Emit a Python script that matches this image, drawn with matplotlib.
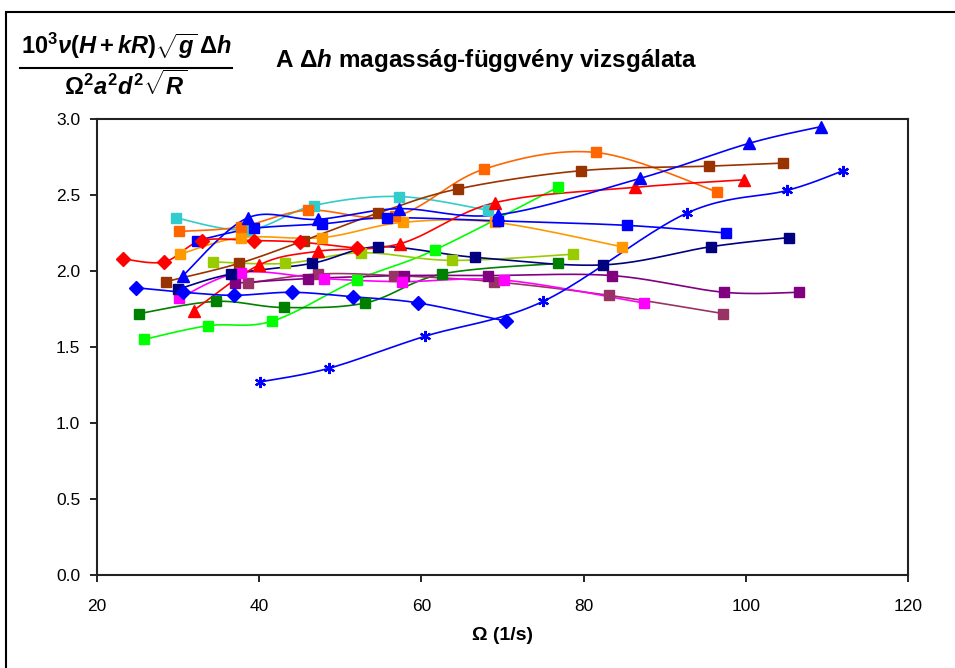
import numpy as np
import matplotlib.pyplot as plt
from matplotlib.patches import Rectangle
from matplotlib.lines import Line2D

plt.rcParams['font.family'] = ['Liberation Sans Narrow', 'Liberation Sans', 'DejaVu Sans']
plt.rcParams['mathtext.fontset'] = 'custom'
plt.rcParams['mathtext.rm'] = 'Liberation Sans:bold'
plt.rcParams['mathtext.it'] = 'Liberation Sans:italic:bold'
plt.rcParams['mathtext.bf'] = 'Liberation Sans:bold'

# series values (Omega in 1/s, scaled height)
red_dia_x = [23.2, 28.3, 32.9, 39.3, 45.0, 52.0]
red_dia_y = [2.08, 2.06, 2.20, 2.20, 2.19, 2.15]
blue_dia_x = [24.8, 30.6, 36.9, 44.1, 51.6, 59.6, 70.4]
blue_dia_y = [1.89, 1.86, 1.84, 1.86, 1.83, 1.79, 1.67]
dgreen_x = [25.2, 34.7, 43.0, 53.1, 62.5, 76.8]
dgreen_y = [1.72, 1.80, 1.76, 1.79, 1.98, 2.05]
lime_x = [25.8, 33.7, 41.6, 52.0, 61.7, 76.8]
lime_y = [1.55, 1.64, 1.67, 1.94, 2.14, 2.55]
ygreen_x = [34.3, 43.2, 52.6, 63.8, 78.7]
ygreen_y = [2.06, 2.05, 2.12, 2.07, 2.11]
navy_x = [30.0, 36.5, 46.5, 54.7, 66.6, 82.4, 95.7, 105.3]
navy_y = [1.88, 1.98, 2.05, 2.16, 2.09, 2.04, 2.16, 2.22]
blue_sq_x = [32.3, 39.3, 47.8, 55.7, 69.4, 85.4, 97.6]
blue_sq_y = [2.20, 2.28, 2.31, 2.35, 2.33, 2.30, 2.25]
blue_tri_x = [30.6, 38.6, 47.2, 57.2, 69.5, 87.0, 100.4, 109.3]
blue_tri_y = [1.97, 2.35, 2.34, 2.41, 2.37, 2.61, 2.84, 2.95]
red_tri_x = [31.9, 40.0, 47.2, 57.4, 69.1, 86.3, 99.8]
red_tri_y = [1.74, 2.04, 2.13, 2.18, 2.45, 2.55, 2.60]
star_x = [40.1, 48.6, 60.4, 75.0, 92.7, 105.1, 112.0]
star_y = [1.27, 1.36, 1.57, 1.80, 2.38, 2.53, 2.66]
cyan_x = [29.7, 38.6, 46.7, 57.2, 68.2]
cyan_y = [2.35, 2.27, 2.43, 2.49, 2.40]
orange_x = [30.1, 37.7, 46.0, 56.8, 67.7, 81.5, 96.5]
orange_y = [2.26, 2.29, 2.40, 2.36, 2.67, 2.78, 2.52]
lorange_x = [30.2, 37.7, 47.8, 57.7, 69.1, 84.7]
lorange_y = [2.11, 2.22, 2.22, 2.32, 2.32, 2.16]
brown_x = [28.5, 37.5, 45.5, 54.6, 64.5, 79.7, 95.5, 104.6]
brown_y = [1.93, 2.05, 2.20, 2.38, 2.54, 2.66, 2.69, 2.71]
purple_x = [37.0, 46.0, 57.8, 68.2, 83.5, 97.3, 106.6]
purple_y = [1.92, 1.95, 1.97, 1.97, 1.97, 1.86, 1.86]
plum_x = [38.6, 47.3, 56.6, 68.9, 83.1, 97.2]
plum_y = [1.92, 1.98, 1.97, 1.93, 1.84, 1.72]
magenta_x = [30.1, 37.7, 48.0, 57.6, 70.2, 87.4]
magenta_y = [1.82, 1.99, 1.95, 1.93, 1.94, 1.79]

x_ticks = [20, 40, 60, 80, 100, 120]
y_ticks = [0.0, 0.5, 1.0, 1.5, 2.0, 2.5, 3.0]

series = [
    (lime_x, lime_y, '#00FF00', 's'),
    (dgreen_x, dgreen_y, '#008000', 's'),
    (ygreen_x, ygreen_y, '#99CC00', 's'),
    (cyan_x, cyan_y, '#33CCCC', 's'),
    (lorange_x, lorange_y, '#FF9900', 's'),
    (orange_x, orange_y, '#FF6600', 's'),
    (brown_x, brown_y, '#993300', 's'),
    (plum_x, plum_y, '#993366', 's'),
    (purple_x, purple_y, '#800080', 's'),
    (magenta_x, magenta_y, '#FF00FF', 's'),
    (navy_x, navy_y, '#000080', 's'),
    (blue_sq_x, blue_sq_y, '#0000FF', 's'),
    (star_x, star_y, '#0000FF', (6, 2, 0)),
    (red_tri_x, red_tri_y, '#FF0000', '^'),
    (blue_tri_x, blue_tri_y, '#0000FF', '^'),
    (blue_dia_x, blue_dia_y, '#0000FF', 'D'),
    (red_dia_x, red_dia_y, '#FF0000', 'D'),
]
marker_size = {'s': 7.5, '^': 8.5, 'D': 7}


def smooth(x, y, n=24):
    # Excel style smoothed line (cubic bezier through the points)
    p = np.column_stack([x, y]).astype(float)
    p = np.vstack([p[0], p, p[-1]])
    pts = []
    for i in range(1, len(p) - 2):
        p0, p1, p2, p3 = p[i - 1], p[i], p[i + 1], p[i + 2]
        c1 = p1 + (p2 - p0) / 6
        c2 = p2 - (p3 - p1) / 6
        t = np.linspace(0, 1, n)[:, None]
        b = (1 - t)**3 * p1 + 3 * (1 - t)**2 * t * c1 + 3 * (1 - t) * t**2 * c2 + t**3 * p2
        pts.append(b)
    pts = np.vstack(pts)
    return pts[:, 0], pts[:, 1]


fig = plt.figure(figsize=(9.55, 6.68), dpi=100)
ax = fig.add_axes([97 / 955, 1 - 575 / 668, 811 / 955, 456 / 668])

for x, y, c, m in series:
    sx, sy = smooth(x, y)
    ax.plot(sx, sy, color=c, lw=1.2, zorder=2)
    if m == (6, 2, 0):
        ax.plot(x, y, ls='none', marker=m, color=c, ms=8, mew=1.6, zorder=3)
    else:
        ax.plot(x, y, ls='none', marker=m, color=c, mec=c, ms=marker_size[m], zorder=3)

ax.set_xlim(20, 120)
ax.set_ylim(0, 3.0)
ax.set_xticks(x_ticks)
ax.set_yticks(y_ticks)
ax.set_yticklabels([f'{v:.1f}' for v in y_ticks])
ax.tick_params(direction='out', length=5, width=1.2, labelsize=12.5)
ax.tick_params(axis='x', pad=12)
ax.tick_params(axis='y', pad=7)
for s in ax.spines.values():
    s.set_linewidth(1.5)
    s.set_color('#222222')
ax.set_xlabel('Ω (1/s)', fontsize=14, fontweight='bold', labelpad=10)

# outer chart frame
fig.add_artist(Rectangle((6 / 955, -0.05), 1.1, 1.032, transform=fig.transFigure,
                         fill=False, lw=1.5, ec='black'))

# formula on the y axis
fig.text(126 / 955, 1 - 46 / 668, r'$10^3\nu(H+kR)\sqrt{g}\,\Delta h$',
         ha='center', va='center', fontsize=17)
fig.add_artist(Line2D([20 / 955, 232 / 955], [1 - 68 / 668, 1 - 68 / 668],
                      transform=fig.transFigure, color='black', lw=1.5))
fig.text(126 / 955, 1 - 85 / 668, r'$\Omega^2a^2d^2\sqrt{R}$',
         ha='center', va='center', fontsize=17)

fig.text(275 / 955, 1 - 60 / 668, r'A $\Delta h$ magasság-függvény vizsgálata',
         ha='left', va='center', fontsize=17.5, fontweight='bold')

fig.savefig('out.png', dpi=100)
